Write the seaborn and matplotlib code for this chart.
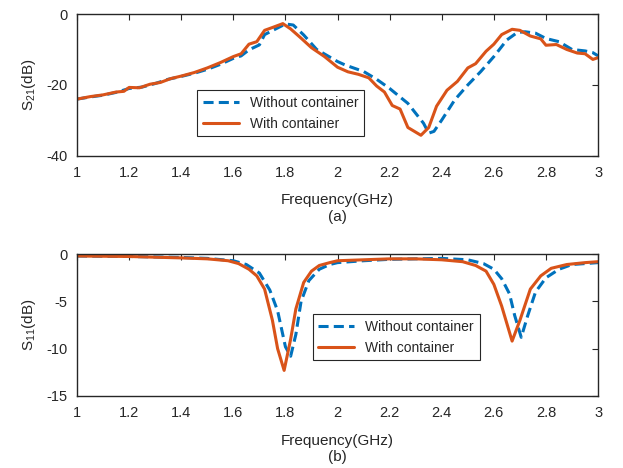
import numpy as np
import pandas as pd
import matplotlib
matplotlib.use('Agg')
import matplotlib.pyplot as plt
import seaborn as sns

# --- S21 data (top panel) ---
freq_s21_without = [1.0, 1.05, 1.1, 1.15, 1.2, 1.25, 1.3, 1.35, 1.4, 1.45, 1.5, 1.55,
                    1.6, 1.63, 1.66, 1.7, 1.72, 1.76, 1.8, 1.83, 1.87, 1.92, 2.0, 2.03,
                    2.1, 2.15, 2.2, 2.27, 2.3, 2.33, 2.35, 2.37, 2.4, 2.45, 2.5, 2.55,
                    2.6, 2.65, 2.69, 2.72, 2.76, 2.8, 2.85, 2.9, 2.95, 2.98, 3.0]
s21_without = [-24.0, -23.4, -22.9, -22.1, -21.0, -20.6, -19.6, -18.4, -17.6, -16.7, -15.6, -14.2,
               -12.5, -11.8, -10.1, -8.7, -5.8, -4.3, -2.8, -3.1, -5.9, -10.0, -13.4, -14.4,
               -16.2, -18.4, -21.0, -25.2, -28.0, -30.8, -33.6, -33.1, -29.9, -24.2, -20.0, -16.2,
               -12.0, -7.3, -5.2, -5.0, -5.4, -6.9, -7.8, -10.0, -10.4, -10.9, -11.8]

freq_s21_with = [1.0, 1.05, 1.1, 1.15, 1.18, 1.2, 1.24, 1.28, 1.32, 1.36, 1.4, 1.45,
                 1.5, 1.55, 1.6, 1.63, 1.66, 1.69, 1.72, 1.75, 1.79, 1.82, 1.86, 1.9,
                 1.95, 2.0, 2.04, 2.08, 2.12, 2.15, 2.18, 2.21, 2.24, 2.27, 2.32, 2.35,
                 2.38, 2.42, 2.46, 2.5, 2.53, 2.57, 2.6, 2.63, 2.67, 2.7, 2.74, 2.78,
                 2.8, 2.84, 2.88, 2.92, 2.95, 2.98, 3.0]
s21_with = [-24.0, -23.3, -22.8, -22.0, -21.8, -20.7, -20.8, -19.8, -19.3, -18.2, -17.5, -16.5,
            -15.2, -13.7, -12.0, -11.2, -8.5, -7.8, -4.6, -3.8, -2.7, -4.2, -6.8, -9.5,
            -12.0, -15.0, -16.3, -17.0, -18.0, -20.3, -22.0, -25.8, -26.8, -32.0, -34.2, -32.0,
            -26.0, -21.5, -19.0, -15.2, -14.0, -10.5, -8.5, -5.8, -4.3, -4.6, -6.2, -7.0,
            -8.8, -8.6, -10.0, -11.0, -11.2, -12.8, -12.3]

# --- S11 data (bottom panel) ---
freq_s11_without = [1.0, 1.2, 1.4, 1.5, 1.6, 1.65, 1.7, 1.74, 1.77, 1.8, 1.82, 1.84,
                    1.86, 1.89, 1.93, 1.97, 2.0, 2.1, 2.2, 2.3, 2.4, 2.5, 2.56, 2.6,
                    2.63, 2.66, 2.68, 2.705, 2.73, 2.76, 2.8, 2.85, 2.9, 2.95, 3.0]
s11_without = [-0.2, -0.25, -0.35, -0.45, -0.7, -1.1, -2.0, -3.8, -6.0, -9.8, -10.8, -8.5,
               -5.0, -2.8, -1.6, -1.1, -0.9, -0.7, -0.55, -0.5, -0.45, -0.6, -1.0, -1.6,
               -2.6, -4.2, -6.5, -8.8, -6.5, -4.0, -2.5, -1.6, -1.1, -1.0, -0.9]

freq_s11_with = [1.0, 1.2, 1.4, 1.5, 1.58, 1.62, 1.66, 1.69, 1.72, 1.75, 1.77, 1.795,
                 1.82, 1.84, 1.87, 1.9, 1.93, 1.97, 2.0, 2.1, 2.2, 2.3, 2.4, 2.48,
                 2.53, 2.57, 2.6, 2.63, 2.67, 2.7, 2.74, 2.78, 2.82, 2.88, 2.95, 3.0]
s11_with = [-0.2, -0.25, -0.4, -0.5, -0.7, -1.0, -1.6, -2.3, -3.7, -7.0, -10.0, -12.3,
            -9.0, -5.8, -3.0, -1.8, -1.2, -0.9, -0.7, -0.6, -0.5, -0.5, -0.6, -0.8,
            -1.2, -1.8, -3.2, -5.5, -9.2, -7.0, -3.7, -2.3, -1.5, -1.1, -0.9, -0.8]

blue = '#0072BD'
orange = '#D95319'
dark = '#262626'

sns.set_style("white")
plt.rcParams['font.family'] = ['Liberation Sans', 'DejaVu Sans']
plt.rcParams['axes.unicode_minus'] = False
plt.rcParams['axes.edgecolor'] = dark
plt.rcParams['xtick.color'] = dark
plt.rcParams['ytick.color'] = dark

fig = plt.figure(figsize=(6.23, 4.68), dpi=100)
ax1 = fig.add_axes([0.1236, 0.667, 0.8364, 0.303])
ax2 = fig.add_axes([0.1236, 0.154, 0.8364, 0.303])

panels = [
    (ax1, freq_s21_without, s21_without, freq_s21_with, s21_with,
     'S$_{\\mathregular{21}}$(dB)', (-40, 0), [-40, -20, 0], '(a)', (0.235, 0.148, 0.311, 0.305)),
    (ax2, freq_s11_without, s11_without, freq_s11_with, s11_with,
     'S$_{\\mathregular{11}}$(dB)', (-15, 0), [-15, -10, -5, 0], '(b)', (0.458, 0.26, 0.309, 0.307)),
]

for ax, fx0, y0, fx1, y1, ylab, ylim, yticks, tag, bbox in panels:
    sns.lineplot(x=fx0, y=y0, ax=ax, color=blue, linewidth=2.2,
                 label='Without container', sort=False)
    ax.lines[-1].set_dashes((3.3, 1.7))
    sns.lineplot(x=fx1, y=y1, ax=ax, color=orange, linewidth=2.2,
                 label='With container', sort=False)
    ax.set_xlim(1, 3)
    ax.set_ylim(*ylim)
    ax.set_xticks(np.round(np.arange(1, 3.01, 0.2), 1))
    ax.set_xticklabels(['1', '1.2', '1.4', '1.6', '1.8', '2', '2.2', '2.4', '2.6', '2.8', '3'])
    ax.set_yticks(yticks)
    ax.tick_params(direction='in', length=4, width=0.8, top=True, right=True,
                   labelsize=10.5, pad=7)
    for s in ax.spines.values():
        s.set_linewidth(1.0)
        s.set_visible(True)
    ax.set_ylabel(ylab, fontsize=11, color=dark, labelpad=6)
    ax.set_xlabel('Frequency(GHz)\n' + tag, fontsize=11, color=dark,
                  linespacing=1.25, labelpad=10)
    leg = ax.legend(loc='center', bbox_to_anchor=bbox, fontsize=10, frameon=True,
                    fancybox=False, edgecolor=dark, handlelength=2.6,
                    borderaxespad=0, framealpha=1)
    leg.get_frame().set_linewidth(0.8)

fig.savefig('out.png', dpi=100)
